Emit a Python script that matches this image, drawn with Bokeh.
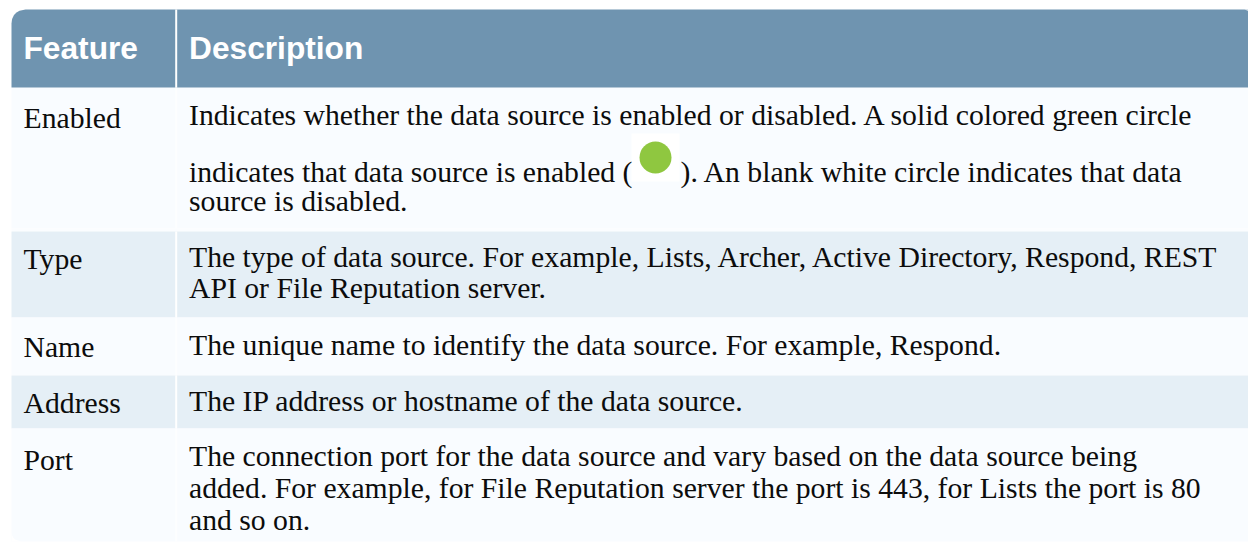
from bokeh.plotting import figure
from bokeh.models import Range1d
from bokeh.core.properties import value
from bokeh.embed import file_html
from bokeh.resources import INLINE

headers = ["Feature", "Description"]
features = ["Enabled", "Type", "Name", "Address", "Port"]
descriptions = [
    ["Indicates whether the data source is enabled or disabled. A solid colored green circle",
     "indicates that data source is enabled (",
     "source is disabled."],
    ["The type of data source. For example, Lists, Archer, Active Directory, Respond, REST",
     "API or File Reputation server."],
    ["The unique name to identify the data source. For example, Respond."],
    ["The IP address or hostname of the data source."],
    ["The connection port for the data source and vary based on the data source being",
     "added. For example, for File Reputation server the port is 443, for Lists the port is 80",
     "and so on."],
]
after_icon = "). An blank white circle indicates that data"
row_edges = [87, 228, 231, 317, 375, 428, 541]
row_colors = ["#f9fcff", "#fbfdff", "#e5eff6", "#f9fcff", "#e5eff6", "#f9fcff"]
line_baselines = [[124, 181, 210], [266, 297], [354], [410], [465, 497, 529]]
label_baselines = [127, 268, 356, 412, 469]
header_baseline = 57

X0, Y0, W, H = 0, 0, 1248, 542
OFFS = -10
p = figure(width=W, height=H, output_backend="svg", toolbar_location=None,
           x_range=Range1d(X0, X0 + W), y_range=Range1d(Y0 + H, Y0), min_border=0,
           outline_line_color=None, background_fill_color="white", border_fill_color="white")
p.axis.visible = False
p.grid.visible = False

p.quad(left=11, right=1248, top=row_edges[:-1], bottom=row_edges[1:],
       fill_color=row_colors, line_color=None)
p.patch([11, 11.6, 13.5, 16, 19, 25, 1248, 1248, 11], [23, 18.5, 14.5, 12, 10.2, 9, 9, 87, 87],
        fill_color="#6f94b0", line_color=None)
# rounded corners
p.patch([11, 11.5, 13, 15.5, 21, 11], [531, 534.5, 537.5, 539.5, 541, 541],
        fill_color="white", line_color=None)
p.patch([1244, 1248, 1248], [9, 9, 10.5], fill_color="white", line_color=None)
# column divider: solid over header and tinted rows, faint over light rows
p.segment(x0=[175.7] * 3, x1=[175.7] * 3, y0=[9, 231, 375], y1=[87, 317, 428],
          line_color="white", line_width=2)
p.segment(x0=[175.7] * 3, x1=[175.7] * 3, y0=[87, 317, 428], y1=[228, 375, 541],
          line_color="#fdfeff", line_width=2)

p.text(x=[23, 188.5], y=[header_baseline] * 2, text=headers, text_font=value("Liberation Sans"),
       text_font_style="bold", text_font_size="31.7px", text_color="white",
       text_baseline="alphabetic", y_offset=OFFS)
p.text(x=[23] * 5, y=label_baselines, text=features, text_font=value("Liberation Serif"),
       text_font_size="29.7px", text_color="#0c0c0c", text_baseline="alphabetic", y_offset=OFFS)

p.quad(left=[631], right=[679], top=[133], bottom=[181], fill_color="white", line_color=None)
p.scatter(x=[655], y=[157], size=32, marker="circle", fill_color="#8fc740", line_color=None)

xs, ys, ts = [], [], []
for lines, bases in zip(descriptions, line_baselines):
    for t, b in zip(lines, bases):
        xs.append(188.5); ys.append(b); ts.append(t)
xs.append(680); ys.append(line_baselines[0][1]); ts.append(after_icon)
p.text(x=xs, y=ys, text=ts, text_font=value("Liberation Serif"),
       text_font_size="29.7px", text_color="#0c0c0c", text_baseline="alphabetic", y_offset=OFFS)

open("out.html", "w").write(file_html(p, INLINE))
